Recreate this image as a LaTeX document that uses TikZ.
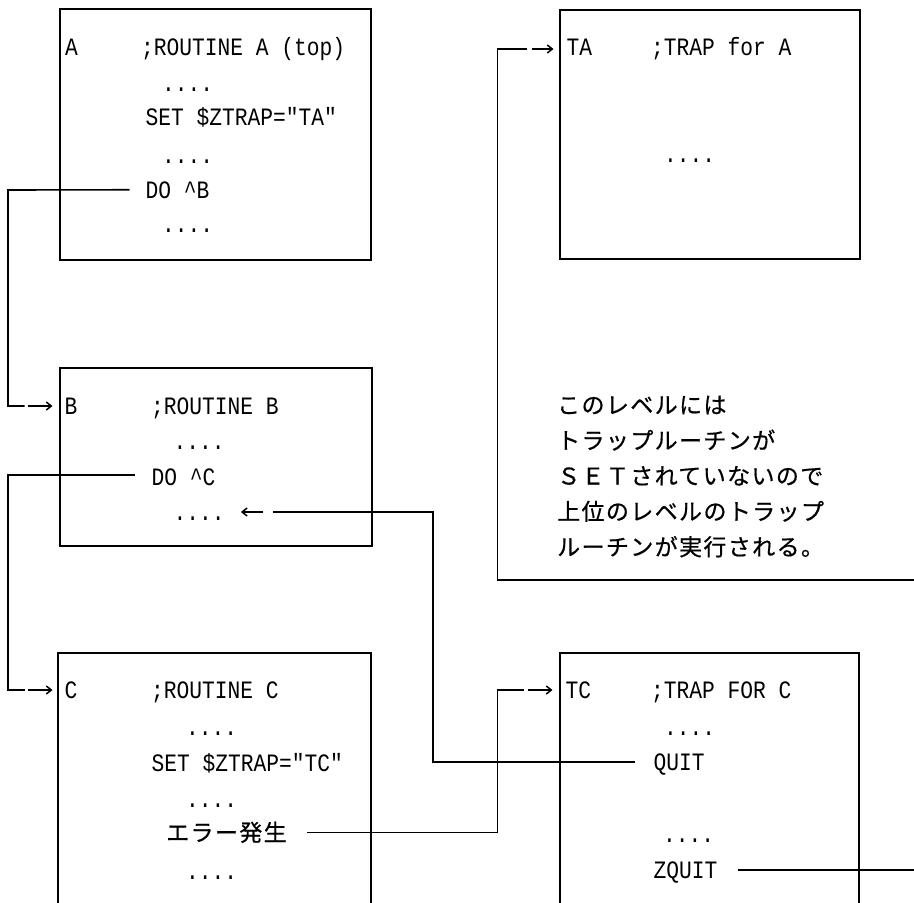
\documentclass[tikz,border=0pt]{standalone}
\usepackage{fontspec}
\usetikzlibrary{arrows.meta}
\newfontfamily\codefont{Liberation Mono}[FakeStretch=0.85]
\newfontfamily\jpfont{Noto Sans CJK JP}[LetterSpace=6,FakeBold=0.6]
\begin{document}
\begin{tikzpicture}[x=1pt,y=-1pt,
  code/.style={anchor=base west, inner sep=0pt, font=\codefont\fontsize{25}{25}\selectfont},
  jp/.style={anchor=base west, inner sep=0pt, font=\jpfont\fontsize{23}{23}\selectfont},
  box/.style={line width=1.6pt},
  conn/.style={line width=1.6pt},
  tip/.style={line width=1.5pt, -{Straight Barb[length=5pt,width=8pt]}}]
\useasboundingbox (0,0) rectangle (914,903);
\fill[white] (0,0) rectangle (914,903);
% boxes
\draw[box] (60,9) rectangle (371,260);
\draw[box] (60,368) rectangle (372,546);
\draw[box] (58,915) |- (371,653) -- (371,915);
\draw[box] (560,10) rectangle (860,259);
\draw[box] (560,915) |- (859,653) -- (859,915);
% routine A
\node[code] (Alab) at (65,55) {A};
\node[code] (Acom) at (141,55) {;ROUTINE A (top)};
\node[code] (Ad1) at (162,91) {....};
\node[code] (Aset) at (145.5,125) {SET \$ZTRAP="TA"};
\node[code] (Ad2) at (162,163.5) {....};
\node[code] (Ado) at (145.5,198) {DO \textasciicircum B};
\node[code] (Ad3) at (162,232) {....};
% routine B
\node[code] (Blab) at (64.5,414) {B};
\node[code] (Bcom) at (151,414) {;ROUTINE B};
\node[code] (Bd1) at (173.5,449) {....};
\node[code] (Bdo) at (151.5,485) {DO \textasciicircum C};
\node[code] (Bd2) at (173.5,520) {....};
% routine C
\node[code] (Clab) at (64.5,698) {C};
\node[code] (Ccom) at (151,698) {;ROUTINE C};
\node[code] (Cd1) at (186,735) {....};
\node[code] (Cset) at (151.5,771) {SET \$ZTRAP="TC"};
\node[code] (Cd2) at (186,807) {....};
\node[jp] (Cerr) at (166,841) {エラー発生};
\node[code] (Cd3) at (186,879) {....};
% trap A
\node[code] (TAlab) at (566.5,55) {TA};
\node[code] (TAcom) at (651,55) {;TRAP for A};
\node[code] (TAd1) at (664,162) {....};
% trap C
\node[code] (TClab) at (565.5,698) {TC};
\node[code] (TCcom) at (651,698) {;TRAP FOR C};
\node[code] (TCd1) at (664,735) {....};
\node[code] (TCquit) at (653.5,770) {QUIT};
\node[code] (TCd2) at (663,842) {....};
\node[code] (TCzq) at (653.5,878) {ZQUIT};
% note
\node[jp] (n1) at (557,413.5) {このレベルには};
\node[jp] (n2) at (557,449) {トラップルーチンが};
\node[jp] (n3) at (557,484.5) {ＳＥＴされていないので};
\node[jp] (n4) at (557,520) {上位のレベルのトラップ};
\node[jp] (n5) at (557,555.5) {ルーチンが実行される。};
% connectors
\coordinate (a1) at (8,190);
\draw[conn] ([xshift=-16pt]Ado.west) -- (a1) |- ([xshift=-40pt,yshift=8pt]Blab.base west);
\draw[tip] ([xshift=-37pt,yshift=8pt]Blab.base west) -- ([xshift=-12pt,yshift=8pt]Blab.base west);
\coordinate (b1) at (8,475);
\draw[conn] ([xshift=-17pt,yshift=10pt]Bdo.base west) -- (b1) |- ([xshift=-40pt,yshift=8pt]Clab.base west);
\draw[tip] ([xshift=-37pt,yshift=8pt]Clab.base west) -- ([xshift=-12pt,yshift=8pt]Clab.base west);
\draw[conn] ([xshift=20pt]Cerr.east) -| ([xshift=-68pt,yshift=8pt]TClab.base west) -- ([xshift=-42pt,yshift=8pt]TClab.base west);
\draw[tip] ([xshift=-38pt,yshift=8pt]TClab.base west) -- ([xshift=-13pt,yshift=8pt]TClab.base west);
\coordinate (q1) at (433,512);
\draw[conn] ([xshift=-19pt,yshift=8pt]TCquit.base west) -| (q1) -- ([xshift=48pt,yshift=8pt]Bd2.base east);
\draw[tip] ([xshift=38pt,yshift=8pt]Bd2.base east) -- ([xshift=16pt,yshift=8pt]Bd2.base east);
\coordinate (offZ) at (930,870);
\draw[conn] ([xshift=20pt,yshift=8pt]TCzq.base east) -- (offZ);
\coordinate (offR) at (930,580);
\draw[conn] (offR) -| ([xshift=-69pt,yshift=6pt]TAlab.base west) -- ([xshift=-40pt,yshift=6pt]TAlab.base west);
\draw[tip] ([xshift=-35pt,yshift=6pt]TAlab.base west) -- ([xshift=-13pt,yshift=6pt]TAlab.base west);
\end{tikzpicture}
\end{document}
